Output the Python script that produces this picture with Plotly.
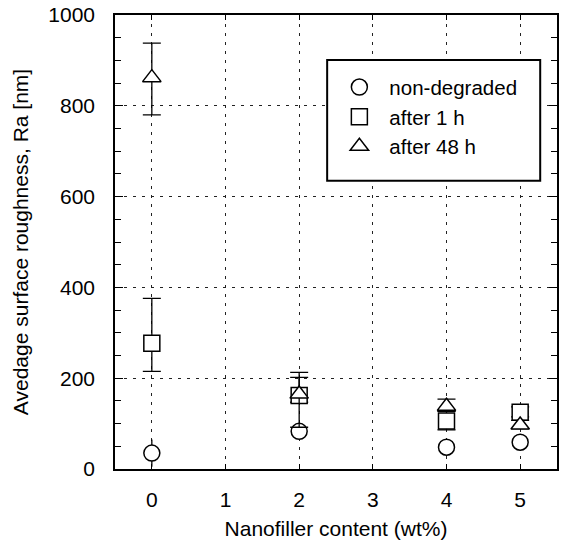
import plotly.graph_objects as go

# Data
content = [0, 2, 4, 5]
x_ticks = [0, 1, 2, 3, 4, 5]

nondeg = [35, 83, 48, 59]
nondeg_up = [30, 14, 8, 8]
nondeg_dn = [30, 14, 8, 8]

after1h = [277, 162, 106, 125]
after1h_up = [99, 40, 21, 12]
after1h_dn = [62, 15, 20, 10]

after48h = [862, 165, 138, 97]
after48h_up = [76, 48, 16, 10]
after48h_dn = [82, 73, 11, 8]

series = [
    ("non-degraded", nondeg, nondeg_up, nondeg_dn, "circle", 0),
    ("after 1 h", after1h, after1h_up, after1h_dn, "square", 9),
    ("after 48 h", after48h, after48h_up, after48h_dn, "triangle-up", 9),
]

fig = go.Figure()
for name, vals, up, dn, sym, capw in series:
    fig.add_trace(go.Scatter(
        x=content, y=vals, mode="markers", name=name,
        marker=dict(symbol=sym, size=16, color="white",
                    line=dict(color="black", width=1.5)),
        error_y=dict(type="data", symmetric=False, array=up, arrayminus=dn,
                     color="black", thickness=1.3, width=capw),
    ))

font_family = "Liberation Sans, Arial, sans-serif"

fig.update_layout(
    width=561, height=540,
    margin=dict(l=115, r=2, t=15, b=70),
    paper_bgcolor="white", plot_bgcolor="white",
    font=dict(family=font_family, size=21, color="black"),
    showlegend=True,
    legend=dict(x=0.485, y=0.885, xanchor="left", yanchor="top",
                bgcolor="rgba(0,0,0,0)", borderwidth=0, itemwidth=50,
                font=dict(size=20.5), tracegroupgap=0),
    shapes=[dict(type="rect", xref="paper", yref="paper",
                 x0=0.48, x1=0.962, y0=0.635, y1=0.901,
                 line=dict(color="black", width=2), fillcolor="white",
                 layer="above")],
)

fig.update_xaxes(
    range=[-0.5, 5.5], tickvals=x_ticks, ticktext=[str(v) for v in x_ticks],
    ticks="inside", ticklen=5, tickcolor="black",
    showline=True, linecolor="black", linewidth=1.5, mirror="ticks",
    showgrid=True, gridcolor="#222", gridwidth=1, griddash="3px,6px",
    zeroline=False, ticklabelstandoff=11,
    title=dict(text="Nanofiller content (wt%)", standoff=12,
               font=dict(size=21)),
)
fig.update_yaxes(
    range=[0, 1000], dtick=200,
    ticks="inside", ticklen=8, tickcolor="black",
    minor=dict(dtick=50, ticks="inside", ticklen=6, tickcolor="black",
               showgrid=False),
    showline=True, linecolor="black", linewidth=1.5, mirror="ticks",
    showgrid=True, gridcolor="#222", gridwidth=1, griddash="3px,6px",
    zeroline=False, ticklabelstandoff=14,
    title=dict(text="Avedage surface roughness, Ra [nm]", standoff=14,
               font=dict(size=21)),
)

fig.write_html("out.html")
